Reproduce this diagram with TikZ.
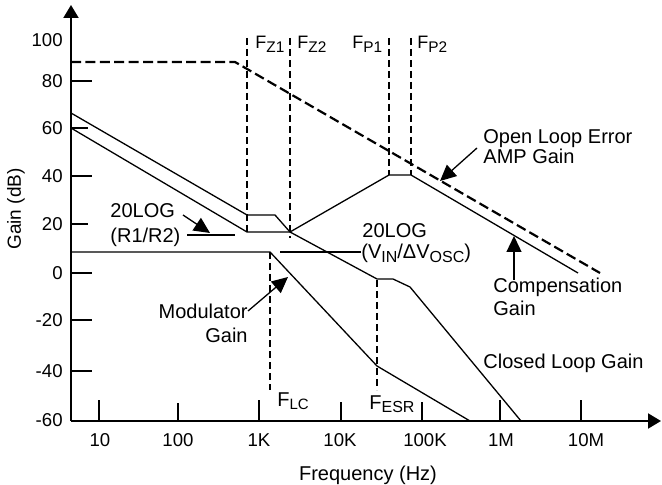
\documentclass[tikz,border=0pt]{standalone}
\usepackage{fontspec}
\setmainfont{Liberation Sans}
\usetikzlibrary{arrows.meta}
\newcommand\mysub[2]{\raisebox{-1.6pt}{\fontsize{#1}{#1}\selectfont #2}}
\begin{document}
\begin{tikzpicture}[x=0.5pt,y=-0.5pt,
  axis/.style={line width=1pt},
  tickmark/.style={line width=1pt},
  curve/.style={line width=0.65pt, line join=miter},
  olg/.style={line width=1.1pt, dash pattern=on 5pt off 2.2pt},
  vdash/.style={line width=1pt, dash pattern=on 3.5pt off 2pt},
  ylab/.style={anchor=east, inner sep=0pt, font=\fontsize{9.3}{11}\selectfont},
  xlab/.style={anchor=center, inner sep=0pt, font=\fontsize{9.3}{11}\selectfont},
  ann/.style={inner sep=0pt, font=\fontsize{10}{12}\selectfont},
  flab/.style={inner sep=0pt, font=\fontsize{9}{11}\selectfont},
  pointer/.style={line width=0.65pt, -{Triangle[length=8pt,width=7.5pt]}},
  leader/.style={line width=0.65pt},
  axtip/.style={-{Triangle[length=6.5pt,width=7.5pt]}},
]
\useasboundingbox (0,0) rectangle (662,485);

% axes
\coordinate (O) at (71,421);
\coordinate (ytop) at (71,5);
\coordinate (xend) at (661,421);
\draw[axis,axtip] (O) -- (ytop);
\draw[axis,axtip] (O) -- (xend);

% y ticks
\foreach \yy/\len in {81/21,128/17,176/21,224/17,273/21,320/21,371/21}
  \draw[tickmark] (71,\yy) -- ++(\len,0);
% x ticks
\foreach \xx/\top in {99/400,178/403,259/400,341/402,422/402,500/400,581/400}
  \draw[tickmark] (\xx,421) -- (\xx,\top);

% y labels
\node[ylab] (y100) at (63,40) {100};
\node[ylab] (y80) at (63,81) {80};
\node[ylab] (y60) at (63,128) {60};
\node[ylab] (y40) at (63,176) {40};
\node[ylab] (y20) at (63,224) {20};
\node[ylab] (y0) at (63,273) {0};
\node[ylab] (ym20) at (63,320) {-20};
\node[ylab] (ym40) at (63,371) {-40};
\node[ylab] (ym60) at (63,420) {-60};

% x labels
\node[xlab] (x10) at (100,440) {10};
\node[xlab] (x100) at (178,440) {100};
\node[xlab] (x1k) at (259,440) {1K};
\node[xlab] (x10k) at (340,440) {10K};
\node[xlab] (x100k) at (425,440) {100K};
\node[xlab] (x1m) at (501,440) {1M};
\node[xlab] (x10m) at (586,440) {10M};

% axis titles
\node[ann, anchor=base] (xtitle) at (368,480) {Frequency (Hz)};
\node[inner sep=0pt, font=\fontsize{9.5}{11}\selectfont, rotate=90] (ytitle) at (16,209) {Gain (dB)};

% curves
\draw[olg] (71,62) -- (235,62) -- (600,273);
\draw[curve] (71,128) -- (247,232) -- (290,232) -- (389,175) -- (411,175) -- (578,273);
\draw[curve] (71,113) -- (247,215) -- (275,215) -- (290,232) -- (377,279) -- (393,279) -- (410,287) -- (521,421);
\draw[curve] (71,252) -- (270,252) -- (377,366) -- (470,421);

% frequency markers
\draw[vdash] (247,38) -- (247,232);
\draw[vdash] (290,38) -- (290,238);
\draw[vdash] (389,38) -- (389,175);
\draw[vdash] (411,38) -- (411,175);
\draw[vdash] (270,252) -- (270,390);
\draw[vdash] (377,280) -- (377,390);

\node[flab, anchor=base west] (fz1) at (255,49) {F\mysub{7.7}{Z1}};
\node[flab, anchor=base west] (fz2) at (297,49) {F\mysub{7.7}{Z2}};
\node[flab, anchor=base west] (fp1) at (352,49) {F\mysub{7.7}{P1}};
\node[flab, anchor=base west] (fp2) at (417,49) {F\mysub{7.7}{P2}};
\node[ann, anchor=base west] (flc) at (277,406) {F\mysub{7.5}{LC}};
\node[ann, anchor=base west] (fesr) at (369,409) {F\mysub{8}{ESR}};

% annotations
\node[ann, anchor=base west] (r1a) at (110,218) {20LOG};
\node[ann, anchor=base west] (r1b) at (110,242.5) {(R1/R2)};
\coordinate (r1tail) at (183,215);
\coordinate (r1tip) at (210,233);
\coordinate (r1l) at (187,235);
\coordinate (r1r) at (235,235);
\draw[pointer] (r1tail) -- (r1tip);
\draw[leader] (r1l) -- (r1r);

\node[ann, anchor=base west] (va) at (362,238) {20LOG};
\node[ann, anchor=base west] (vb) at (361,259) {(V\mysub{8}{IN}/ΔV\mysub{8}{OSC})};
\coordinate (vl) at (280,252);
\draw[leader] (vl) -- (vb.west |- vl);

\node[ann, anchor=base west] (ola) at (483,143.5) {Open Loop Error};
\node[ann, anchor=base west] (olb) at (483,164) {AMP Gain};
\coordinate (oltail) at (477,148);
\coordinate (oltip) at (440,181);
\draw[pointer] (oltail) -- (oltip);

\node[ann, anchor=base west] (cga) at (493,293) {Compensation};
\node[ann, anchor=base west] (cgb) at (493,315) {Gain};
\coordinate (cgtail) at (514,280);
\coordinate (cgtip) at (514,236);
\draw[pointer] (cgtail) -- (cgtip);

\node[ann, anchor=base west] (clg) at (483,368) {Closed Loop Gain};

\node[ann, anchor=base east] (mga) at (248,319) {Modulator};
\node[ann, anchor=base east] (mgb) at (248,343) {Gain};
\coordinate (mgtail) at (248,311);
\coordinate (mgtip) at (288,277);
\draw[pointer] (mgtail) -- (mgtip);
\end{tikzpicture}
\end{document}
